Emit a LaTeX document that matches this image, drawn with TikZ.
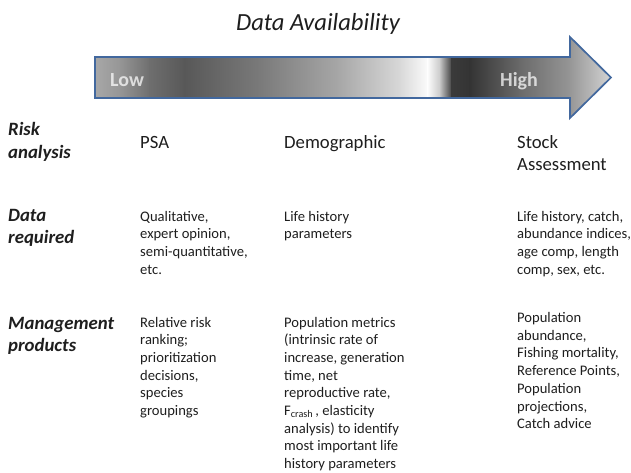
\documentclass[tikz,border=0pt]{standalone}
\usepackage{fontspec}
\setmainfont{Carlito}
\definecolor{arrowblue}{RGB}{66,104,158}
\definecolor{ink}{RGB}{30,30,30}
% grey ramp along the arrow
\definecolor{s0}{RGB}{168,168,168}
\definecolor{s1}{RGB}{150,150,150}
\definecolor{s2}{RGB}{110,110,110}
\definecolor{s3}{RGB}{88,88,88}
\definecolor{s4}{RGB}{122,122,122}
\definecolor{s5}{RGB}{168,168,168}
\definecolor{s6}{RGB}{216,216,216}
\definecolor{s7}{RGB}{252,252,252}
\definecolor{s8}{RGB}{200,200,200}
\definecolor{s9}{RGB}{58,58,58}
\definecolor{s10}{RGB}{52,52,52}
\definecolor{s11}{RGB}{106,106,106}
\definecolor{s12}{RGB}{150,150,150}
\definecolor{s13}{RGB}{214,214,214}
\newcommand\stacked[1]{\begin{tabular}[t]{@{}l@{}}#1\end{tabular}}
\begin{document}
\begin{tikzpicture}[x=1pt,y=-1pt,
  title/.style={font=\fontsize{24.6}{29}\selectfont\itshape, text=ink, anchor=base, inner sep=0},
  rowlabel/.style={font=\fontsize{18.8}{22.5}\selectfont\bfseries\itshape, text=ink, anchor=base west, inner sep=0},
  colhead/.style={font=\fontsize{18.7}{22}\selectfont, text=ink, anchor=base west, inner sep=0},
  cell/.style={font=\fontsize{14.6}{17.7}\selectfont, text=ink, anchor=base west, inner sep=0},
  arrowtext/.style={font=\fontsize{20}{24}\selectfont\bfseries, text=white, text opacity=0.72, anchor=base west, inner sep=0},
  outline/.style={draw=arrowblue, line width=1.7pt, line join=miter}]
\useasboundingbox (0,0) rectangle (631,472);

% title
\node[title] (title) at (318,30.5) {Data Availability};

% shaded block arrow
\begin{scope}
  \clip (95,57) -- (570,57) -- (570,37) -- (611,77.5) -- (570,118) -- (570,98) -- (95,98) -- cycle;
  \foreach \xa/\ca/\xb/\cb in {95/s0/120/s1, 120/s1/150/s2, 150/s2/185/s3, 185/s3/260/s4,
      260/s4/340/s5, 340/s5/400/s6, 400/s6/428/s7, 428/s7/440/s8, 440/s8/452/s9,
      452/s9/470/s10, 470/s10/520/s11, 520/s11/570/s12, 570/s12/612/s13}
    \fill[left color=\ca, right color=\cb] (\xa-0.4,30) rectangle (\xb+0.4,125);
\end{scope}
\draw[outline] (95,57) -- (570,57) -- (570,37) -- (611,77.5) -- (570,118) -- (570,98) -- (95,98) -- cycle;
\node[arrowtext] (low) at (110,86) {Low};
\node[arrowtext] (high) at (500,86) {High};

% row labels
\node[rowlabel] (lrisk) at (8,135.5) {\stacked{Risk\\analysis}};
\node[rowlabel] (ldata) at (8,221) {\stacked{Data\\required}};
\node[rowlabel] (lmgmt) at (8,329) {\stacked{Management\\products}};

% column heads
\node[colhead] (hpsa) at (140,148) {PSA};
\node[colhead] (hdemo) at (284,148) {Demographic};
\node[colhead] (hstock) at (517,148) {\stacked{Stock\\Assessment}};

% data required
\node[cell] (dpsa) at (140,221) {\stacked{Qualitative,\\expert opinion,\\semi-quantitative,\\etc.}};
\node[cell] (ddemo) at (284,221) {\stacked{Life history\\parameters}};
\node[cell] (dstock) at (517,221) {\stacked{Life history, catch,\\abundance indices,\\age comp, length\\comp, sex, etc.}};

% management products
\node[cell] (mpsa) at (140,327) {\stacked{Relative risk\\ranking;\\prioritization\\decisions,\\species\\groupings}};
\node[cell] (mdemo) at (284,327) {\stacked{Population metrics\\(intrinsic rate of\\increase, generation\\time, net\\reproductive rate,\\F\textsubscript{crash}\hspace{2pt}, elasticity\\analysis) to identify\\most important life\\history parameters}};
\node[cell] (mstock) at (517,322.5) {\stacked{Population\\abundance,\\Fishing mortality,\\Reference Points,\\Population\\projections,\\Catch advice}};
\end{tikzpicture}
\end{document}
